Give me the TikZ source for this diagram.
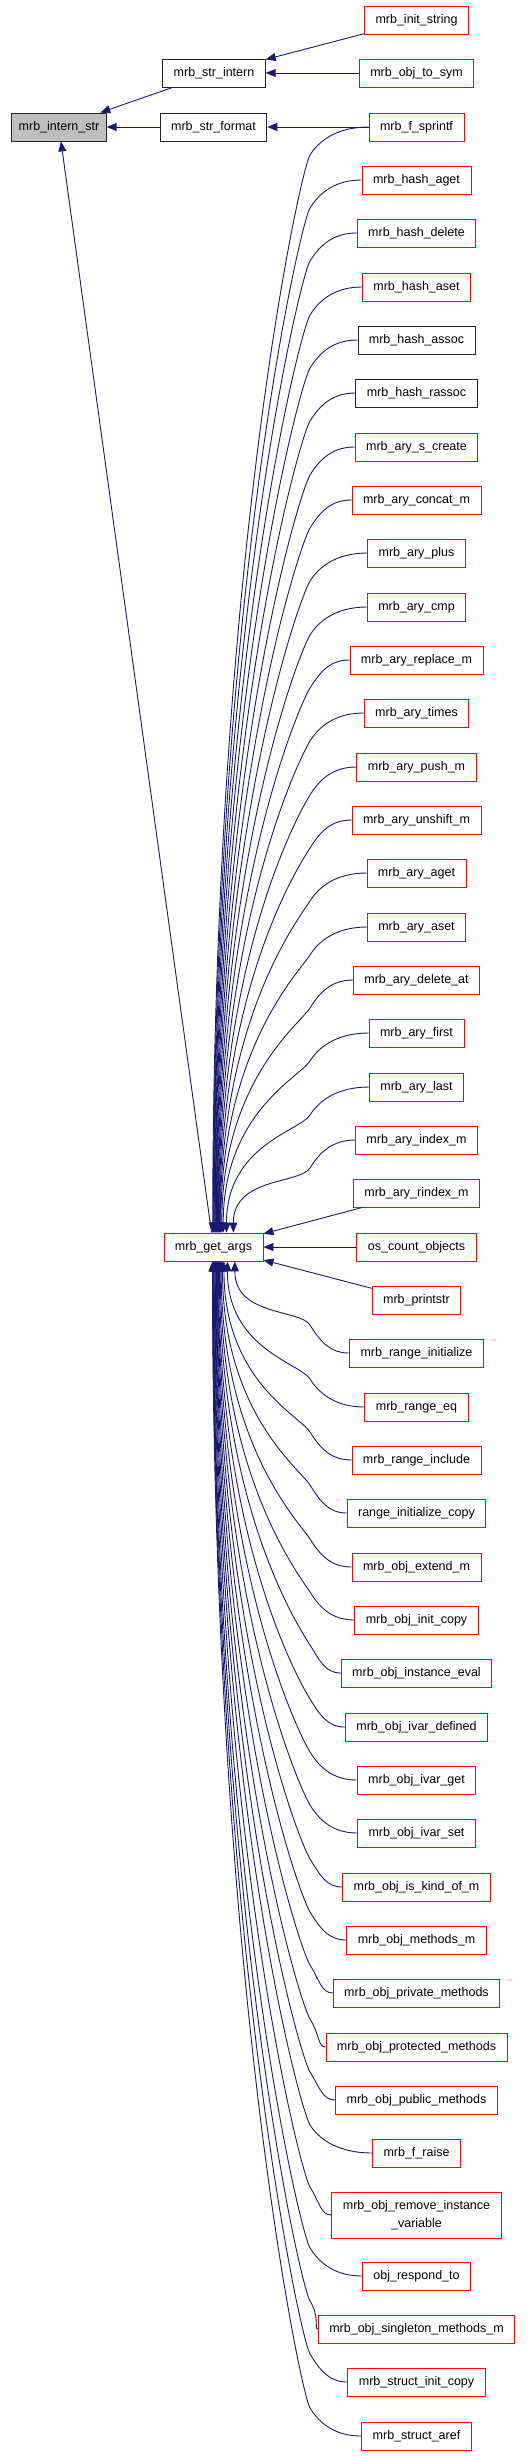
\documentclass[tikz,border=0pt]{standalone}
\usepackage{fontspec}
\setmainfont{Liberation Sans}
\usepackage{tikz}
\usetikzlibrary{arrows.meta, calc}
\definecolor{callblue}{HTML}{191970}
\definecolor{rootgray}{HTML}{BFBFBF}
\tikzset{
  fnnode/.style={draw=red,fill=white,line width=0.8pt,minimum height=28pt,inner xsep=11pt,inner ysep=0pt,font=\fontsize{12.5}{18}\selectfont},
  plainnode/.style={fnnode,draw=black!85},
  rootnode/.style={fnnode,draw=black!85,fill=rootgray,inner xsep=7pt},
  calledge/.style={-{Triangle[length=10pt,width=8pt]},line width=0.9pt,callblue},
  callfromabove/.style={to path={.. controls ($(\tikztostart)!0.5!(\tikztostart -| nBend)$) and ($(\tikztostart -| nBend)+(10,12)$)
    .. ($(\tikztostart -| nBend)+(0,28)$)
    .. controls ($(\tikztostart -| nBend)+(-10,44)$) and ($(\tikztotarget)!0.6!(\tikztotarget |- \tikztostart)$) .. (\tikztotarget)}},
  callfrombelow/.style={to path={.. controls ($(\tikztostart)!0.5!(\tikztostart -| nBend)$) and ($(\tikztostart -| nBend)+(10,-12)$)
    .. ($(\tikztostart -| nBend)+(0,-28)$)
    .. controls ($(\tikztostart -| nBend)+(-10,-44)$) and ($(\tikztotarget)!0.6!(\tikztotarget |- \tikztostart)$) .. (\tikztotarget)}},
}

\begin{document}
\begin{tikzpicture}[x=1pt,y=-1pt]
  \useasboundingbox (0,0) rectangle (528,2456);
  \coordinate (nBend) at (310,0);
  \node[rootnode] (nInternStr) at (59,127) {mrb\_intern\_str};
  \node[plainnode] (nStrIntern) at (214,73) {mrb\_str\_intern};
  \node[plainnode] (nStrFormat) at (213.5,127) {mrb\_str\_format};
  \node[fnnode] (nGetArgs) at (213.5,1247) {mrb\_get\_args};
  \node[fnnode] (nInitString) at (416.5,20) {mrb\_init\_string};
  \node[fnnode] (nObjToSym) at (416.5,73) {mrb\_obj\_to\_sym};
  \node[fnnode] (nFSprintf) at (416.5,127) {mrb\_f\_sprintf};
  \node[fnnode] (nHashAget) at (416.5,180) {mrb\_hash\_aget};
  \node[fnnode] (nHashDelete) at (416.5,233) {mrb\_hash\_delete};
  \node[fnnode] (nHashAset) at (416.5,287) {mrb\_hash\_aset};
  \node[plainnode] (nHashAssoc) at (416.5,340) {mrb\_hash\_assoc};
  \node[plainnode] (nHashRassoc) at (416.5,393) {mrb\_hash\_rassoc};
  \node[fnnode] (nArySCreate) at (416.5,447) {mrb\_ary\_s\_create};
  \node[fnnode] (nAryConcatM) at (416.5,500) {mrb\_ary\_concat\_m};
  \node[fnnode] (nAryPlus) at (416.5,553) {mrb\_ary\_plus};
  \node[fnnode] (nAryCmp) at (416.5,607) {mrb\_ary\_cmp};
  \node[fnnode] (nAryReplaceM) at (416.5,660) {mrb\_ary\_replace\_m};
  \node[fnnode] (nAryTimes) at (416.5,713) {mrb\_ary\_times};
  \node[fnnode] (nAryPushM) at (416.5,767) {mrb\_ary\_push\_m};
  \node[fnnode] (nAryUnshiftM) at (416.5,820) {mrb\_ary\_unshift\_m};
  \node[fnnode] (nAryAget) at (416.5,873) {mrb\_ary\_aget};
  \node[fnnode] (nAryAset) at (416.5,927) {mrb\_ary\_aset};
  \node[fnnode] (nAryDeleteAt) at (416.5,980) {mrb\_ary\_delete\_at};
  \node[fnnode] (nAryFirst) at (416.5,1033) {mrb\_ary\_first};
  \node[fnnode] (nAryLast) at (416.5,1087) {mrb\_ary\_last};
  \node[fnnode] (nAryIndexM) at (416.5,1140) {mrb\_ary\_index\_m};
  \node[fnnode] (nAryRindexM) at (416.5,1193) {mrb\_ary\_rindex\_m};
  \node[fnnode] (nOsCountObjects) at (416.5,1247) {os\_count\_objects};
  \node[fnnode] (nPrintstr) at (416.5,1300) {mrb\_printstr};
  \node[fnnode] (nRangeInit) at (416.5,1353) {mrb\_range\_initialize};
  \node[fnnode] (nRangeEq) at (416.5,1407) {mrb\_range\_eq};
  \node[fnnode] (nRangeInclude) at (416.5,1460) {mrb\_range\_include};
  \node[fnnode] (nRangeInitCopy) at (416.5,1513) {range\_initialize\_copy};
  \node[fnnode] (nObjExtendM) at (416.5,1567) {mrb\_obj\_extend\_m};
  \node[fnnode] (nObjInitCopy) at (416.5,1620) {mrb\_obj\_init\_copy};
  \node[fnnode] (nObjInstanceEval) at (416.5,1673) {mrb\_obj\_instance\_eval};
  \node[fnnode] (nObjIvarDefined) at (416.5,1727) {mrb\_obj\_ivar\_defined};
  \node[fnnode] (nObjIvarGet) at (416.5,1780) {mrb\_obj\_ivar\_get};
  \node[fnnode] (nObjIvarSet) at (416.5,1833) {mrb\_obj\_ivar\_set};
  \node[fnnode] (nObjIsKindOfM) at (416.5,1887) {mrb\_obj\_is\_kind\_of\_m};
  \node[fnnode] (nObjMethodsM) at (416.5,1940) {mrb\_obj\_methods\_m};
  \node[fnnode] (nObjPrivateMethods) at (416.5,1993) {mrb\_obj\_private\_methods};
  \node[fnnode] (nObjProtectedMethods) at (416.5,2047) {mrb\_obj\_protected\_methods};
  \node[fnnode] (nObjPublicMethods) at (416.5,2100) {mrb\_obj\_public\_methods};
  \node[fnnode] (nFRaise) at (416.5,2153) {mrb\_f\_raise};
  \node[fnnode,align=center,minimum height=46pt] (nObjRemoveIvar) at (416.5,2215) {mrb\_obj\_remove\_instance\\\_variable};
  \node[fnnode] (nObjRespondTo) at (416.5,2276) {obj\_respond\_to};
  \node[fnnode] (nObjSingletonMethodsM) at (416.5,2329) {mrb\_obj\_singleton\_methods\_m};
  \node[fnnode] (nStructInitCopy) at (416.5,2382) {mrb\_struct\_init\_copy};
  \node[fnnode] (nStructAref) at (416.5,2436) {mrb\_struct\_aref};
  % direct callers
  \draw[calledge] (nStrIntern) -- (nInternStr);
  \draw[calledge] (nStrFormat) -- (nInternStr);
  \draw[calledge] (nGetArgs) -- (nInternStr);
  \draw[calledge] (nInitString) -- (nStrIntern);
  \draw[calledge] (nObjToSym) -- (nStrIntern);
  \draw[calledge] (nFSprintf) -- (nStrFormat);
  % callers of mrb_get_args, upper half
  \draw[calledge] (nFSprintf.west) to[callfromabove] (nGetArgs.93);
  \draw[calledge] (nHashAget.west) to[callfromabove] (nGetArgs.91);
  \draw[calledge] (nHashDelete.west) to[callfromabove] (nGetArgs.89);
  \draw[calledge] (nHashAset.west) to[callfromabove] (nGetArgs.87);
  \draw[calledge] (nHashAssoc.west) to[callfromabove] (nGetArgs.85);
  \draw[calledge] (nHashRassoc.west) to[callfromabove] (nGetArgs.83);
  \draw[calledge] (nArySCreate.west) to[callfromabove] (nGetArgs.81);
  \draw[calledge] (nAryConcatM.west) to[callfromabove] (nGetArgs.79);
  \draw[calledge] (nAryPlus.west) to[callfromabove] (nGetArgs.77);
  \draw[calledge] (nAryCmp.west) to[callfromabove] (nGetArgs.75);
  \draw[calledge] (nAryReplaceM.west) to[callfromabove] (nGetArgs.73);
  \draw[calledge] (nAryTimes.west) to[callfromabove] (nGetArgs.71);
  \draw[calledge] (nAryPushM.west) to[callfromabove] (nGetArgs.69);
  \draw[calledge] (nAryUnshiftM.west) to[callfromabove] (nGetArgs.67);
  \draw[calledge] (nAryAget.west) to[callfromabove] (nGetArgs.65);
  \draw[calledge] (nAryAset.west) to[callfromabove] (nGetArgs.63);
  \draw[calledge] (nAryDeleteAt.west) to[callfromabove] (nGetArgs.60);
  \draw[calledge] (nAryFirst.west) to[callfromabove] (nGetArgs.56);
  \draw[calledge] (nAryLast.west) to[callfromabove] (nGetArgs.48);
  \draw[calledge] (nAryIndexM.west) to[callfromabove] (nGetArgs.36);
  \draw[calledge] (nAryRindexM) -- (nGetArgs);
  \draw[calledge] (nOsCountObjects) -- (nGetArgs);
  \draw[calledge] (nPrintstr) -- (nGetArgs);
  % lower half
  \draw[calledge] (nRangeInit.west) to[callfrombelow] (nGetArgs.326);
  \draw[calledge] (nRangeEq.west) to[callfrombelow] (nGetArgs.314);
  \draw[calledge] (nRangeInclude.west) to[callfrombelow] (nGetArgs.306);
  \draw[calledge] (nRangeInitCopy.west) to[callfrombelow] (nGetArgs.302);
  \draw[calledge] (nObjExtendM.west) to[callfrombelow] (nGetArgs.298);
  \draw[calledge] (nObjInitCopy.west) to[callfrombelow] (nGetArgs.295);
  \draw[calledge] (nObjInstanceEval.west) to[callfrombelow] (nGetArgs.292);
  \draw[calledge] (nObjIvarDefined.west) to[callfrombelow] (nGetArgs.289);
  \draw[calledge] (nObjIvarGet.west) to[callfrombelow] (nGetArgs.287);
  \draw[calledge] (nObjIvarSet.west) to[callfrombelow] (nGetArgs.285);
  \draw[calledge] (nObjIsKindOfM.west) to[callfrombelow] (nGetArgs.283);
  \draw[calledge] (nObjMethodsM.west) to[callfrombelow] (nGetArgs.281);
  \draw[calledge] (nObjPrivateMethods.west) to[callfrombelow] (nGetArgs.279);
  \draw[calledge] (nObjProtectedMethods.west) to[callfrombelow] (nGetArgs.277);
  \draw[calledge] (nObjPublicMethods.west) to[callfrombelow] (nGetArgs.275);
  \draw[calledge] (nFRaise.west) to[callfrombelow] (nGetArgs.273);
  \draw[calledge] (nObjRemoveIvar.west) to[callfrombelow] (nGetArgs.271);
  \draw[calledge] (nObjRespondTo.west) to[callfrombelow] (nGetArgs.269);
  \draw[calledge] (nObjSingletonMethodsM.west) to[callfrombelow] (nGetArgs.268);
  \draw[calledge] (nStructInitCopy.west) to[callfrombelow] (nGetArgs.267);
  \draw[calledge] (nStructAref.west) to[callfrombelow] (nGetArgs.266);
\end{tikzpicture}
\end{document}
